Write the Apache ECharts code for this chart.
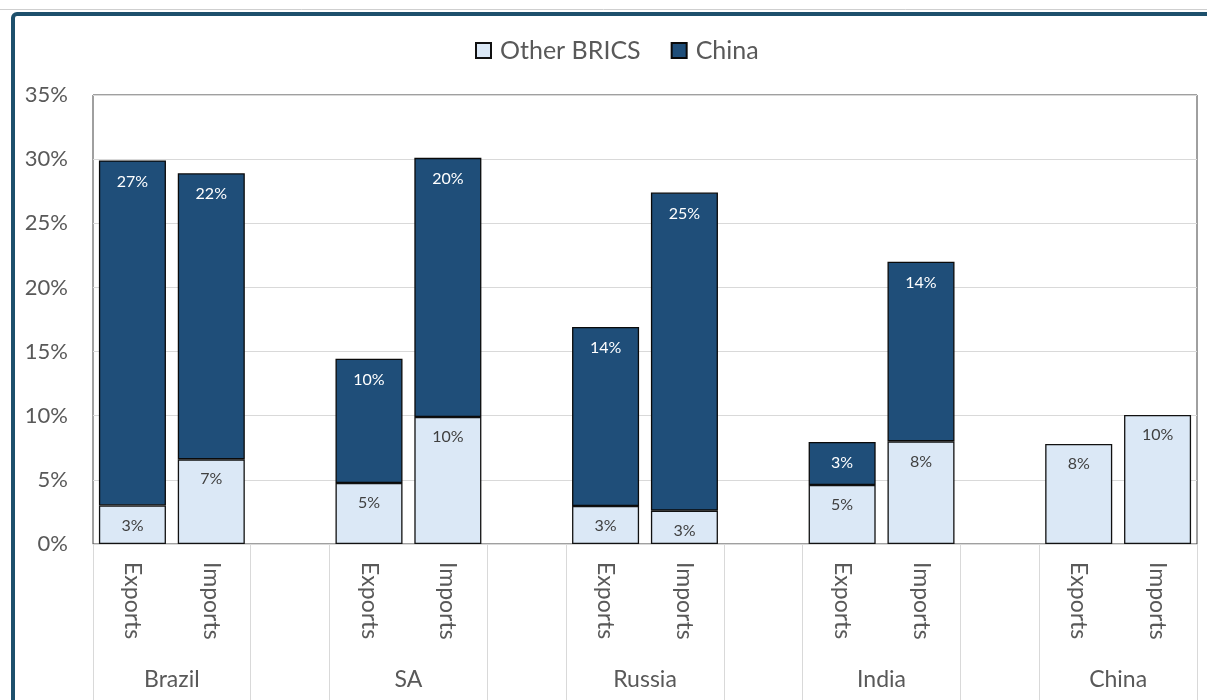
<!DOCTYPE html>
<html>
<head>
<meta charset="utf-8">
<script src="https://cdn.jsdelivr.net/npm/echarts@6/dist/echarts.min.js"></script>
<style>
  html, body { margin: 0; padding: 0; background: #ffffff; }
  #chart { width: 1207px; height: 700px; }
</style>
</head>
<body>
<div id="chart"></div>
<script>
// Slots along the x axis: two bars per country, with an empty slot between countries
const flowLabels = ['Exports', 'Imports', '', 'Exports', 'Imports', '', 'Exports', 'Imports', '', 'Exports', 'Imports', '', 'Exports', 'Imports'];
// Country names sit on the boundary between each Exports/Imports pair
const countryLabels = ['', 'Brazil', '', '', 'SA', '', '', 'Russia', '', '', 'India', '', '', 'China', ''];
// Share of trade (%) with BRICS partners other than China
const otherBrics = [3.0, 6.6, null, 4.75, 9.9, null, 2.96, 2.6, null, 4.6, 8.0, null, 7.8, 10.05];
// Share of trade (%) with China
const chinaShare = [26.9, 22.3, null, 9.7, 20.2, null, 13.95, 24.8, null, 3.35, 14.0, null, null, null];
const yTicks = { min: 0, max: 35, step: 5 };

const FONT = 'Lato, "Noto Sans", sans-serif';
const chart = echarts.init(document.getElementById('chart'), null, { renderer: 'canvas' });

// Separator ticks at the start of each country pair and each gap slot
const separatorAt = new Set([0, 2, 3, 5, 6, 8, 9, 11, 12, 14]);

const pct = p => (p.value == null ? '' : Math.round(p.value) + '%');

chart.setOption({
  animation: false,
  backgroundColor: '#ffffff',
  textStyle: { fontFamily: FONT },
  graphic: [
    { type: 'line', shape: { x1: 0, y1: 9.5, x2: 1207, y2: 9.5 }, style: { stroke: '#cfcfcf', lineWidth: 1 }, silent: true },
    { type: 'rect', shape: { x: 13, y: 14, width: 1400, height: 900, r: 4 }, style: { fill: 'none', stroke: '#1d506c', lineWidth: 4 }, silent: true }
  ],
  legend: {
    top: 33,
    left: 470,
    itemWidth: 15,
    itemHeight: 15,
    itemGap: 30,
    icon: 'rect',
    textStyle: { fontFamily: FONT, fontSize: 25, color: '#595959', padding: [0, 0, 0, 4] },
    data: ['Other BRICS', 'China']
  },
  grid: {
    left: 93, right: 10, top: 95, bottom: 156,
    show: true, borderColor: '#404040', borderWidth: 1,
    containLabel: false
  },
  xAxis: [
    {
      type: 'category',
      data: flowLabels,
      boundaryGap: true,
      axisLine: { show: true, lineStyle: { color: '#d9d9d9', width: 1 } },
      axisTick: {
        show: true,
        length: 156,
        interval: (i) => separatorAt.has(i),
        lineStyle: { color: '#d9d9d9', width: 1 }
      },
      axisLabel: {
        interval: 0,
        rotate: -90,
        margin: 18,
        fontFamily: FONT,
        fontSize: 23,
        color: '#595959'
      },
      z: 5
    },
    {
      type: 'category',
      data: countryLabels,
      boundaryGap: false,
      position: 'bottom',
      axisLine: { show: false },
      axisTick: { show: false },
      axisLabel: {
        interval: 0,
        margin: 124,
        fontFamily: FONT,
        fontSize: 23,
        color: '#595959'
      }
    }
  ],
  yAxis: {
    type: 'value',
    min: yTicks.min,
    max: yTicks.max,
    interval: yTicks.step,
    axisLine: { show: false },
    axisTick: { show: false },
    axisLabel: {
      formatter: '{value}%',
      margin: 25,
      fontFamily: FONT,
      fontSize: 22,
      color: '#595959'
    },
    splitLine: { lineStyle: { color: '#d9d9d9', width: 1 } }
  },
  series: [
    {
      name: 'Other BRICS',
      type: 'bar',
      stack: 'share',
      xAxisIndex: 0,
      barCategoryGap: '15%',
      data: otherBrics,
      itemStyle: { color: '#dbe8f6', borderColor: '#111111', borderWidth: 1.3 },
      label: {
        show: true,
        position: 'insideTop',
        distance: 12,
        formatter: pct,
        fontFamily: FONT,
        fontSize: 16,
        color: '#404040'
      }
    },
    {
      name: 'China',
      type: 'bar',
      stack: 'share',
      xAxisIndex: 0,
      barCategoryGap: '15%',
      data: chinaShare,
      itemStyle: { color: '#1f4e79', borderColor: '#0a0a0a', borderWidth: 1.3 },
      label: {
        show: true,
        position: 'insideTop',
        distance: 13,
        formatter: pct,
        fontFamily: FONT,
        fontSize: 16,
        color: '#ffffff'
      }
    }
  ]
});
</script>
</body>
</html>
